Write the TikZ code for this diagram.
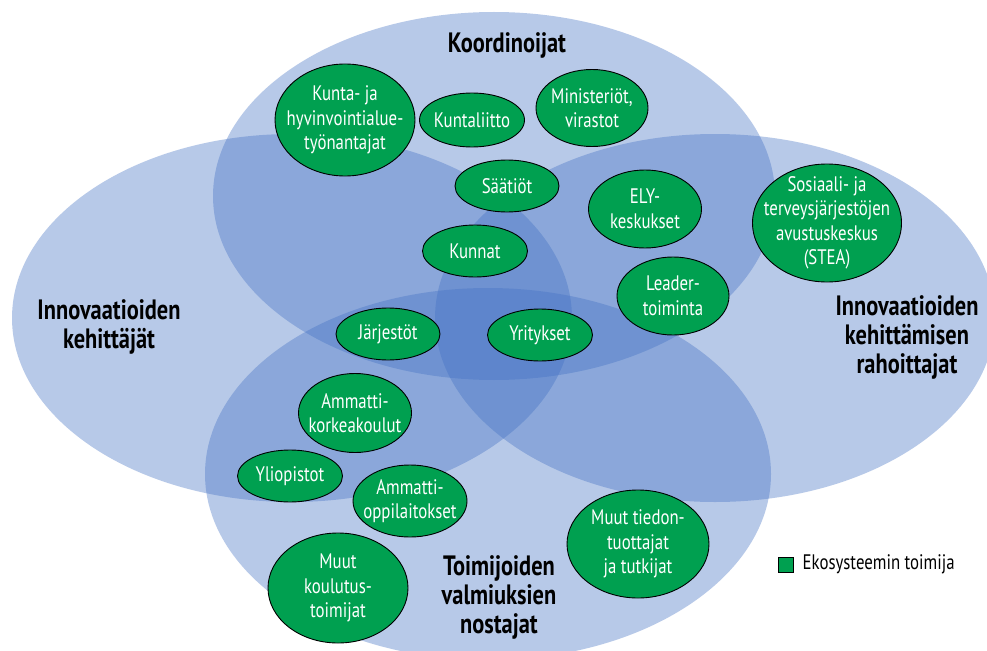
\documentclass[tikz,border=0pt]{standalone}
\usepackage{fontspec}
\setmainfont{PT Sans}[FakeStretch=0.8]
\usetikzlibrary{shapes.geometric}
\definecolor{venn}{RGB}{68,114,196}
\definecolor{actor}{RGB}{0,160,80}
\tikzset{
  zone/.style={fill=venn, fill opacity=0.38},
  actorbox/.style={ellipse, draw=black, line width=0.9pt, fill=actor, inner sep=0pt},
  actortext/.style={text=white, inner sep=0pt, align=center, font=\fontsize{21}{24.5}\selectfont},
  grouplabel/.style={align=center, text=black, font=\fontsize{28}{29}\selectfont\bfseries},
}
\begin{document}
\begin{tikzpicture}[x=1pt,y=-1pt]
\useasboundingbox (0,0) rectangle (987,650);
\clip (0,0) rectangle (987,650);
\fill[white] (0,0) rectangle (987,650);
% four zones
\fill[zone] (494,196) ellipse [x radius=281pt, y radius=184pt];
\fill[zone] (292,318) ellipse [x radius=280pt, y radius=184pt];
\fill[zone] (715,318) ellipse [x radius=280pt, y radius=184pt];
\fill[zone] (488,474) ellipse [x radius=283pt, y radius=186pt];
% group labels
\node[grouplabel] (koord) at (507,45) {Koordinoijat};
\node[grouplabel] (kehit) at (109,327) {Innovaatioiden\\kehittäjät};
\node[grouplabel] (rahoit) at (907,337) {Innovaatioiden\\kehittämisen\\rahoittajat};
\node[grouplabel] (nostaj) at (499,597) {Toimijoiden\\valmiuksien\\nostajat};
% actors
\node[actorbox, minimum width=140pt, minimum height=112pt] (kunta) at (345,120) {};
\node[actortext] at (kunta.center) {Kunta- ja\\hyvinvointialue-\\työnantajat};
\node[actorbox, minimum width=105pt, minimum height=54pt] (kuntaliitto) at (472,120) {};
\node[actortext] at (kuntaliitto.center) {Kuntaliitto};
\node[actorbox, minimum width=112pt, minimum height=77pt] (minist) at (592,108) {};
\node[actortext] at (minist.center) {Ministeriöt,\\virastot};
\node[actorbox, minimum width=104pt, minimum height=52pt] (saatiot) at (507,186) {};
\node[actortext] at (saatiot.center) {Säätiöt};
\node[actorbox, minimum width=113pt, minimum height=78pt] (ely) at (645,209) {};
\node[actortext] at (ely.center) {ELY-\\keskukset};
\node[actorbox, minimum width=105pt, minimum height=52pt] (kunnat) at (475,251) {};
\node[actortext] at (kunnat.center) {Kunnat};
\node[actorbox, minimum width=112pt, minimum height=78pt] (leader) at (673,296) {};
\node[actortext] at (leader.center) {Leader-\\toiminta};
\node[actorbox, minimum width=105pt, minimum height=52pt] (yrit) at (540,335) {};
\node[actortext] at (yrit.center) {Yritykset};
\node[actorbox, minimum width=104pt, minimum height=52pt] (jarj) at (388,334) {};
\node[actortext] at (jarj.center) {Järjestöt};
\node[actorbox, minimum width=149pt, minimum height=118pt] (stea) at (827,223) {};
\node[actortext] at (stea.center) {Sosiaali- ja\\terveysjärjestöjen\\avustuskeskus\\(STEA)};
\node[actorbox, minimum width=113pt, minimum height=79pt] (amk) at (355,413) {};
\node[actortext] at (amk.center) {Ammatti-\\korkeakoulut};
\node[actorbox, minimum width=105pt, minimum height=52pt] (yo) at (290,476) {};
\node[actortext] at (yo.center) {Yliopistot};
\node[actorbox, minimum width=114pt, minimum height=72pt] (amo) at (410,501) {};
\node[actortext] at (amo.center) {Ammatti-\\oppilaitokset};
\node[actorbox, minimum width=140pt, minimum height=110pt] (muutk) at (338,588) {};
\node[actortext] at (muutk.center) {Muut\\koulutus-\\toimijat};
\node[actorbox, minimum width=142pt, minimum height=108pt] (muutt) at (638,544) {};
\node[actortext] at (muutt.center) {Muut tiedon-\\tuottajat\\ja tutkijat};
% legend
\node[draw=black, line width=0.9pt, fill=actor, minimum size=15pt, inner sep=0pt] (legbox) at (785.5,564.5) {};
\node[anchor=west, inner sep=0pt, font=\fontsize{21}{24}\selectfont] (legtext) at ([xshift=9pt]legbox.east) {Ekosysteemin toimija};
\end{tikzpicture}
\end{document}
